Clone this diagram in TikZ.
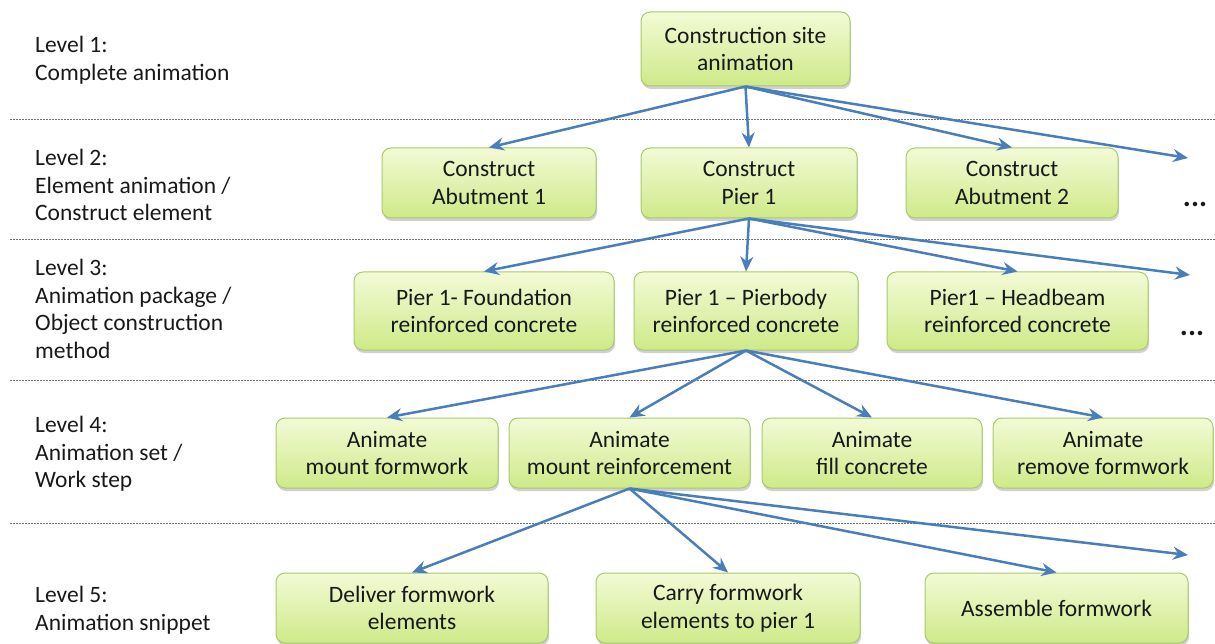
\documentclass[tikz,border=0pt]{standalone}
\usepackage{fontspec}
\setmainfont{Carlito}
\usetikzlibrary{arrows.meta,shadows}
\definecolor{linkblue}{RGB}{74,126,187}
\definecolor{boxedge}{RGB}{168,202,104}
\definecolor{boxtop}{RGB}{243,250,214}
\definecolor{boxbottom}{RGB}{206,234,136}
\definecolor{txt}{RGB}{25,25,25}
\tikzset{
  task/.style={draw=boxedge, line width=1pt, rounded corners=9pt,
    top color=boxtop, bottom color=boxbottom, align=center, text=txt,
    inner sep=2pt,
    drop shadow={shadow xshift=1pt, shadow yshift=-3pt, opacity=0.3, fill=black!60}},
  levellabel/.style={anchor=north west, align=left, text=txt, inner sep=0pt},
  link/.style={draw=linkblue, line width=2.5pt,
    -{Stealth[length=15pt,width=13pt,inset=5pt]}},
  divider/.style={draw=black!55, line width=1pt, dash pattern=on 2pt off 1pt},
  more/.style={font=\fontsize{30}{30}\selectfont\bfseries, text=txt}
}
\begin{document}
\begin{tikzpicture}[x=1pt,y=-1pt,font=\fontsize{23.5}{27.5}\selectfont]
\useasboundingbox (0,0) rectangle (1215,644);

% level separators
\foreach \yy in {120,240,380,523}
  \draw[divider] (10,\yy) -- (1215,\yy);

% level descriptions
\node[levellabel] (l1) at (35,36) {Level 1:\\Complete animation};
\node[levellabel] (l2) at (35,149) {Level 2:\\Element animation /\\Construct element};
\node[levellabel] (l3) at (35,259) {Level 3:\\Animation package /\\Object construction\\method};
\node[levellabel] (l4) at (35,416) {Level 4:\\Animation set /\\Work step};
\node[levellabel] (l5) at (35,586) {Level 5:\\Animation snippet};

% level 1
\node[task, minimum width=209pt, minimum height=74pt] (c1) at (745.5,49) {Construction site\\animation};
% level 2
\node[task, minimum width=214pt, minimum height=70pt] (a1) at (489,183) {Construct\\Abutment 1};
\node[task, minimum width=216pt, minimum height=70pt] (p1) at (749,183) {Construct\\Pier 1};
\node[task, minimum width=212pt, minimum height=70pt] (a2) at (1012,183) {Construct\\Abutment 2};
% level 3
\node[task, minimum width=260pt, minimum height=78pt] (f3) at (484,311) {Pier 1- Foundation\\reinforced concrete};
\node[task, minimum width=224pt, minimum height=78pt] (b3) at (746,311) {Pier 1 -- Pierbody\\reinforced concrete};
\node[task, minimum width=261pt, minimum height=78pt] (h3) at (1017.5,311) {Pier1 -- Headbeam\\reinforced concrete};
% level 4
\node[task, minimum width=222pt, minimum height=70pt] (m4) at (387,453) {Animate\\mount formwork};
\node[task, minimum width=241pt, minimum height=70pt] (r4) at (629.5,453) {Animate\\mount reinforcement};
\node[task, minimum width=220pt, minimum height=70pt] (c4) at (872,453) {Animate\\fill concrete};
\node[task, minimum width=220pt, minimum height=70pt] (x4) at (1103,453) {Animate\\remove formwork};
% level 5
\node[task, minimum width=272pt, minimum height=70pt] (d5) at (412,608) {Deliver formwork\\elements};
\node[task, minimum width=264pt, minimum height=70pt] (y5) at (728,608) {Carry formwork\\elements to pier 1};
\node[task, minimum width=263pt, minimum height=70pt] (s5) at (1056.5,608) {Assemble formwork};

% continuation marks
\node[more] (dots2) at (1195,204) {...};
\node[more] (dots3) at (1192,333) {...};

% open ends of the branches
\coordinate (e1) at (1188,158);
\coordinate (e2) at (1190,275);
\coordinate (e4) at (1188,555);

% branches
\draw[link] (c1.south) -- (a1.north);
\draw[link] (c1.south) -- (p1.north);
\draw[link] (c1.south) -- (a2.north);
\draw[link] (c1.south) -- (e1);

\draw[link] (p1.south) -- (f3.north);
\draw[link] (p1.south) -- (b3.north);
\draw[link] (p1.south) -- (h3.north);
\draw[link] (p1.south) -- (e2);

\draw[link] (b3.south) -- (m4.north);
\draw[link] (b3.south) -- (r4.north);
\draw[link] (b3.south) -- (c4.north);
\draw[link] (b3.south) -- (x4.north);

\draw[link] (r4.south) -- (d5.north);
\draw[link] (r4.south) -- (y5.north);
\draw[link] (r4.south) -- (s5.north);
\draw[link] (r4.south) -- (e4);
\end{tikzpicture}
\end{document}
